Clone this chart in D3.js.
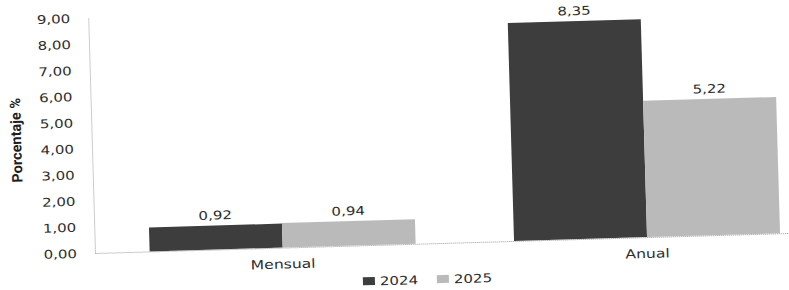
<!DOCTYPE html>
<html>
<head>
<meta charset="utf-8">
<script src="https://cdn.jsdelivr.net/npm/d3@7"></script>
<style>
  body { margin: 0; background: #fff; }
</style>
</head>
<body>
<div id="container"></div>
<script>
// chart values
const categories = ["Mensual", "Anual"];
const seriesNames = ["2024", "2025"];
const values2024 = [0.92, 8.35];
const values2025 = [0.94, 5.22];
const yTicks = [0, 1, 2, 3, 4, 5, 6, 7, 8, 9];

const colors = { "2024": "#3d3d3d", "2025": "#bababa" };
const rows = categories.map((c, i) => ({
  cat: c,
  vals: [{ s: "2024", v: values2024[i] }, { s: "2025", v: values2025[i] }]
}));

const fmt = v => d3.format(".2f")(v).replace(".", ",");
const stretch = 1.25;   // the scan is wider than tall
const textColor = "#2e2e2e";

let svg = d3.select("#container")
  .append("svg")
  .attr("width", 789)
  .attr("height", 290);

// whole scan is tilted a little
let chart = svg.append("g")
  .attr("transform", "rotate(-1.65,95,253)");

let x = d3.scaleBand()
  .domain(categories)
  .range([95, 835])
  .paddingInner(0.27)
  .paddingOuter(0.15);

let xs = d3.scaleBand()
  .domain(seriesNames)
  .range([0, x.bandwidth()]);

let y = d3.scaleLinear()
  .domain([0, 9])
  .range([253, 18]);

// bars
let groups = chart.selectAll(".grp").data(rows).enter()
  .append("g")
  .attr("class", "grp")
  .attr("transform", d => "translate(" + x(d.cat) + ",0)");

groups.selectAll("rect").data(d => d.vals).enter()
  .append("rect")
  .attr("x", d => xs(d.s))
  .attr("y", d => y(d.v))
  .attr("width", xs.bandwidth())
  .attr("height", d => y(0) - y(d.v))
  .attr("fill", d => colors[d.s]);

groups.selectAll(".val").data(d => d.vals).enter()
  .append("text")
  .attr("class", "val")
  .attr("transform", d => "translate(" + (xs(d.s) + xs.bandwidth() / 2) + "," + (y(d.v) - 6) + ") scale(" + stretch + ",1)")
  .attr("text-anchor", "middle")
  .attr("font-family", "DejaVu Sans")
  .attr("font-size", 12)
  .attr("fill", textColor)
  .text(d => fmt(d.v));

// y axis
let yAxis = chart.append("g")
  .attr("transform", "translate(95,0)")
  .call(d3.axisLeft(y).tickValues(yTicks).tickFormat(fmt).tickSize(0).tickSizeOuter(0).tickPadding(18 / stretch));

yAxis.select(".domain")
  .attr("stroke", "#9a9a9a")
  .attr("stroke-dasharray", "1,1");

yAxis.selectAll("text")
  .attr("transform", "scale(" + stretch + ",1)")
  .attr("font-family", "DejaVu Sans")
  .attr("font-size", 12)
  .attr("fill", textColor);

// x axis
let xAxis = chart.append("g")
  .attr("transform", "translate(0," + y(0) + ")")
  .call(d3.axisBottom(x).tickSize(0).tickSizeOuter(0).tickPadding(12));

xAxis.select(".domain")
  .attr("stroke", "#9a9a9a")
  .attr("stroke-dasharray", "1,1");

xAxis.selectAll("text")
  .attr("transform", "scale(" + stretch + ",1)")
  .attr("font-family", "DejaVu Sans")
  .attr("font-size", 12.5)
  .attr("fill", textColor);

// y title
chart.append("text")
  .text("Porcentaje %")
  .attr("transform", "translate(20,138) rotate(-90)")
  .attr("text-anchor", "middle")
  .attr("dominant-baseline", "central")
  .attr("font-family", "'Liberation Sans Narrow', 'Roboto', sans-serif")
  .attr("font-weight", "bold")
  .attr("font-size", 14.5)
  .attr("fill", "#1e1e1e");

// legend
let legendX = [362, 436];
let legend = chart.selectAll(".leg").data(seriesNames).enter()
  .append("g")
  .attr("class", "leg")
  .attr("transform", (d, i) => "translate(" + legendX[i] + ",289)");

legend.append("rect")
  .attr("x", 0)
  .attr("y", -4)
  .attr("width", 12)
  .attr("height", 8)
  .attr("fill", d => colors[d]);

legend.append("text")
  .text(d => d)
  .attr("transform", "translate(17,4.5) scale(" + stretch + ",1)")
  .attr("font-family", "DejaVu Sans")
  .attr("font-size", 12)
  .attr("fill", textColor);
</script>
</body>
</html>
